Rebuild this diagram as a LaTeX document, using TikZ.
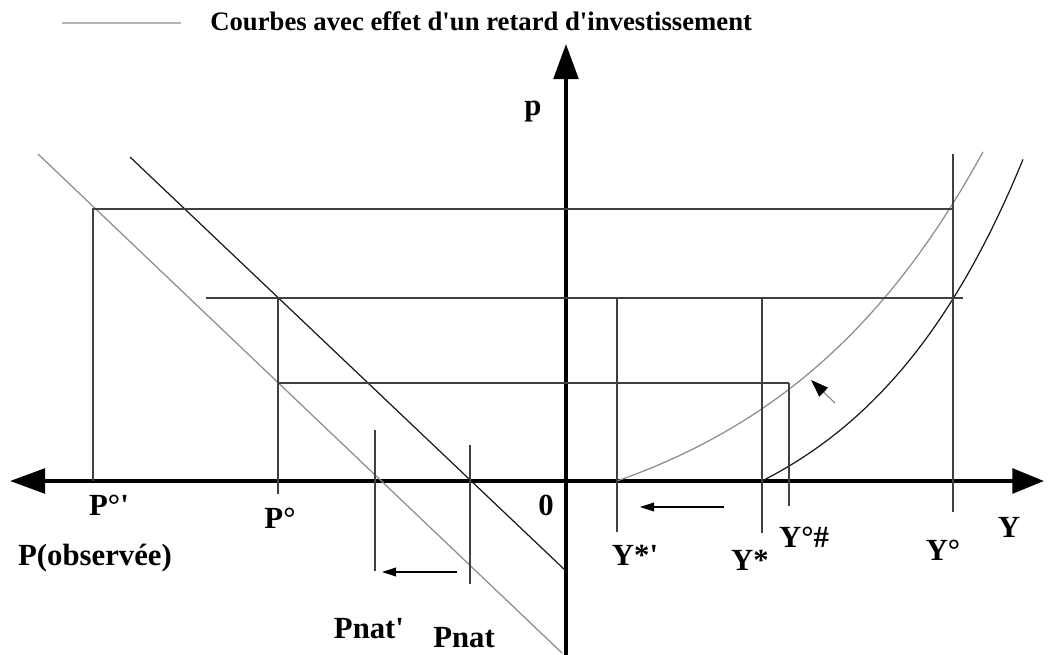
\documentclass[tikz,border=0pt]{standalone}
\usepackage{fontspec}
\setmainfont{Liberation Serif}[Ligatures=TeXOff]
\usepackage{tikz}
\usetikzlibrary{arrows.meta}

\begin{document}
\begin{tikzpicture}[
    x=0.02cm, y=-0.02cm,
    %% ── Line styles ───────────────────────────────────────────
    axis/.style={line width=2.3pt},
    bigtip/.style={arrows={-Triangle[length=20pt, width=14pt]}},
    bothtips/.style={arrows={Triangle[length=20pt, width=14pt]-Triangle[length=18pt, width=14pt]}},
    guide/.style={line width=0.6pt, draw=black!75},
    lagcurve/.style={line width=0.7pt, draw=black!45},
    refcurve/.style={line width=0.7pt, draw=black!90},
    shiftarrow/.style={
        line width=0.6pt,
        -{Triangle[length=8pt, width=5pt, color=black]}
    },
    %% ── Text styles ───────────────────────────────────────────
    axislabel/.style={
        inner sep=0pt, anchor=base,
        font=\fontsize{17.5}{20}\selectfont\bfseries
    },
    legendtext/.style={
        inner sep=0pt, anchor=base west,
        font=\fontsize{15.2}{18}\selectfont\bfseries
    }
]
\useasboundingbox (0,0) rectangle (1052,655);

%% ── Legend ─────────────────────────────────────────────────────
\coordinate (leg1) at (62,23);
\coordinate (leg2) at (181,23);
\draw [line width=1.2pt, draw=black!30] (leg1) -- (leg2);
\node (legend) [legendtext] at (210,31) {Courbes avec effet d'un retard d'investissement};

%% ── Axes ───────────────────────────────────────────────────────
\coordinate (xl) at (10,481);
\coordinate (xr) at (1044,481);
\coordinate (yb) at (566,655);
\coordinate (yt) at (566,44);
\draw [axis, bothtips] (xl) -- (xr);
\draw [axis, bigtip] (yb) -- (yt);

%% ── Price lines (left half) ────────────────────────────────────
\coordinate (g1) at (38,154);
\coordinate (g2) at (562,653);
\coordinate (b1) at (130,157);
\coordinate (b2) at (566,571);
\draw [lagcurve] (g1) -- (g2);
\draw [refcurve] (b1) -- (b2);

%% ── Output curves (right half) ─────────────────────────────────
\draw [lagcurve] plot[domain=617:983, samples=60]
    (\x, {481-78.5*(exp(0.0045*(\x-617))-1)});
\draw [refcurve] plot[domain=762:1023, samples=60]
    (\x, {481-85*(exp(0.006*(\x-762))-1)});

%% ── Horizontal guides ──────────────────────────────────────────
\draw [guide] (92,209)  -- (954,209);
\draw [guide] (206,298) -- (963,298);
\draw [guide] (278,383) -- (789,383);

%% ── Vertical guides ────────────────────────────────────────────
\draw [guide] (93,209)  -- (93,481);
\draw [guide] (278,298) -- (278,494);
\draw [guide] (375,430) -- (375,571);
\draw [guide] (470,445) -- (470,584);
\draw [guide] (617,298) -- (617,532);
\draw [guide] (762,298) -- (762,533);
\draw [guide] (789,383) -- (789,506);
\draw [guide] (953,154) -- (953,512);

%% ── Shift arrows ───────────────────────────────────────────────
\coordinate (pa1) at (457,572);
\coordinate (pa2) at (382,572);
\coordinate (ya1) at (724,507);
\coordinate (ya2) at (640,507);
\coordinate (ca1) at (835,403);
\coordinate (ca2) at (811,380);
\draw [shiftarrow] (pa1) -- (pa2);
\draw [shiftarrow] (ya1) -- (ya2);
\draw [shiftarrow, draw=black!50, -{Triangle[length=10pt, width=7pt, color=black]}] (ca1) -- (ca2);

%% ── Labels ─────────────────────────────────────────────────────
\node (lp)     [axislabel] at (533,116) {p};
\node (lzero)  [axislabel] at (546,515) {0};
\node (lpo1)   [axislabel] at (109,515) {P°'};
\node (lpo)    [axislabel] at (280,528) {P°};
\node (lpobs)  [axislabel] at (95,565)  {P(observée)};
\node (lpnat1) [axislabel] at (369,638) {Pnat'};
\node (lpnat)  [axislabel] at (464,647) {Pnat};
\node (lys1)   [axislabel] at (635,565) {Y*'};
\node (lys)    [axislabel] at (750,570) {Y*};
\node (lyoh)   [axislabel] at (804,547) {Y°\#};
\node (lyo)    [axislabel] at (943,560) {Y°};
\node (ly)     [axislabel] at (1009,537) {Y};

\end{tikzpicture}
\end{document}
